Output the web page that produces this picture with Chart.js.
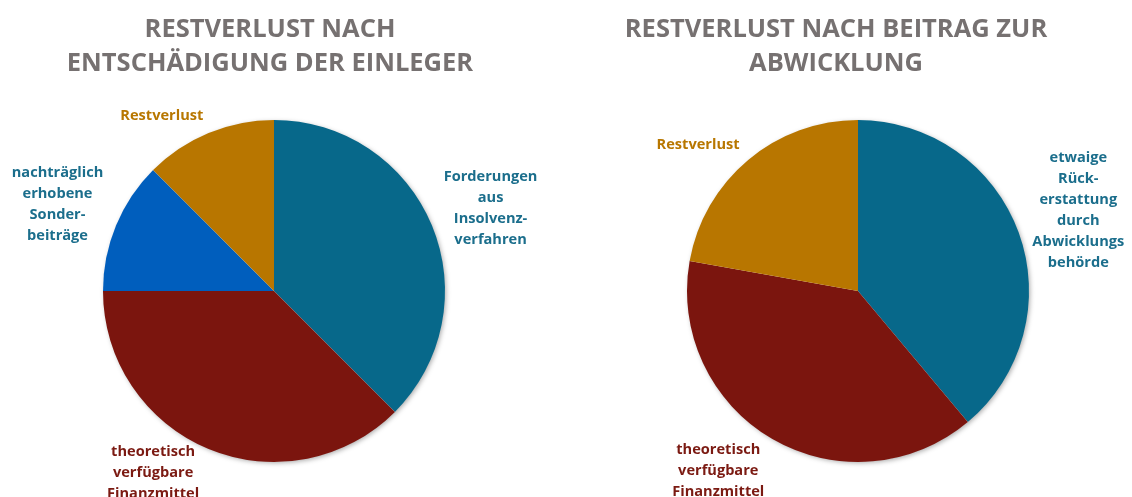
<!DOCTYPE html>
<html><head><meta charset="utf-8">
<script src="https://cdn.jsdelivr.net/npm/chart.js@4/dist/chart.umd.min.js"></script>
<style>
html,body{margin:0;padding:0;background:#fff;}
#wrap{position:relative;width:1132px;height:497px;overflow:hidden;}
.box{position:absolute;top:0;width:566px;height:497px;}
</style></head><body>
<div id="wrap">
  <div class="box" style="left:0"><canvas id="c1"></canvas></div>
  <div class="box" style="left:566px"><canvas id="c2"></canvas></div>
</div>
<script>
// ---- data ----
const leftTitle = ['RESTVERLUST NACH', 'ENTSCHÄDIGUNG DER EINLEGER'];
const leftCategories = [
  ['Forderungen', 'aus', 'Insolvenz-', 'verfahren'],
  ['theoretisch', 'verfügbare', 'Finanzmittel'],
  ['nachträglich', 'erhobene', 'Sonder-', 'beiträge'],
  ['Restverlust']
];
const leftValues = [37.5, 37.5, 12.5, 12.5];

const rightTitle = ['RESTVERLUST NACH BEITRAG ZUR', 'ABWICKLUNG'];
const rightCategories = [
  ['etwaige', 'Rück-', 'erstattung', 'durch', 'Abwicklungs', 'behörde'],
  ['theoretisch', 'verfügbare', 'Finanzmittel'],
  ['Restverlust']
];
const rightValues = [38.9, 38.9, 22.2];

// ---- styles ----
const TEAL = '#07688a', RED = '#7b150e', BLUE = '#005ebd', GOLD = '#b87600';
const TEAL_TXT = '#1b6e8c', RED_TXT = '#7b1a12', GOLD_TXT = '#b87700';
const leftColors = [TEAL, RED, BLUE, GOLD];
const leftTextColors = [TEAL_TXT, RED_TXT, TEAL_TXT, GOLD_TXT];
const rightColors = [TEAL, RED, GOLD];
const rightTextColors = [TEAL_TXT, RED_TXT, GOLD_TXT];
const FONT = '"Open Sans", "DejaVu Sans", sans-serif';

function titlePlugin(lines, cfg) {
  return {
    id: 'multiTitle',
    afterDraw(chart) {
      const ctx = chart.ctx;
      ctx.save();
      ctx.font = `bold ${cfg.size}px ${FONT}`;
      ctx.fillStyle = '#767171';
      ctx.textAlign = 'center';
      ctx.textBaseline = 'middle';
      lines.forEach((l, i) => ctx.fillText(l, chart.width / 2 + cfg.shift, cfg.top + i * cfg.lineHeight));
      ctx.restore();
    }
  };
}

const shadowPlugin = {
  id: 'pieShadow',
  beforeDatasetsDraw(chart) {
    const arc = chart.getDatasetMeta(0).data[0];
    if (!arc) return;
    const p = arc.getProps(['x', 'y', 'outerRadius'], true);
    const ctx = chart.ctx;
    ctx.save();
    ctx.shadowColor = 'rgba(0,0,0,0.35)';
    ctx.shadowBlur = 5;
    ctx.shadowOffsetX = 1.5;
    ctx.shadowOffsetY = 1.5;
    ctx.fillStyle = '#ffffff';
    ctx.beginPath();
    ctx.arc(p.x, p.y, p.outerRadius - 0.5, 0, Math.PI * 2);
    ctx.fill();
    ctx.restore();
  }
};

function labelPlugin(colors, cfg) {
  return {
    id: 'outLabels',
    afterDatasetsDraw(chart) {
      const meta = chart.getDatasetMeta(0);
      const ctx = chart.ctx;
      ctx.save();
      ctx.font = `bold ${cfg.size}px ${FONT}`;
      ctx.textAlign = 'center';
      ctx.textBaseline = 'middle';
      meta.data.forEach((arc, i) => {
        const a = arc.getProps(['x', 'y', 'startAngle', 'endAngle', 'outerRadius'], true);
        const mid = (a.startAngle + a.endAngle) / 2;
        const dx = Math.cos(mid), dy = Math.sin(mid);
        const lines = chart.data.labels[i];
        const w = Math.max(...lines.map(l => ctx.measureText(l).width));
        const h = lines.length * cfg.lineHeight;
        const px = a.x + dx * (a.outerRadius + cfg.gap);
        const py = a.y + dy * (a.outerRadius + cfg.gap);
        const cx = px + dx * w / 2 + cfg.nudge[i][0];
        const cy = py + dy * h / 2 + cfg.nudge[i][1];
        ctx.fillStyle = colors[i];
        lines.forEach((l, j) => ctx.fillText(l, cx, cy - h / 2 + cfg.lineHeight * (j + 0.5)));
      });
      ctx.restore();
    }
  };
}

function makePie(id, labels, values, colors, textColors, titleLines, padding, nudge) {
  new Chart(document.getElementById(id), {
    type: 'pie',
    data: {
      labels: labels,
      datasets: [{ data: values, backgroundColor: colors, borderWidth: 0 }]
    },
    options: {
      responsive: true,
      maintainAspectRatio: false,
      animation: false,
      layout: { padding: padding },
      plugins: { legend: { display: false }, tooltip: { enabled: false }, title: { display: false } }
    },
    plugins: [
      shadowPlugin,
      titlePlugin(titleLines, { size: 25.5, top: 30, lineHeight: 34, shift: -13 }),
      labelPlugin(textColors, { size: 14.6, lineHeight: 21.1, gap: 10, nudge: nudge })
    ]
  });
}

makePie('c1', leftCategories, leftValues, leftColors, leftTextColors, leftTitle,
  { left: 100, right: 118, top: 120, bottom: 35 },
  [[6, 3], [-34, -15], [-7, -1], [-27, 2]]);
makePie('c2', rightCategories, rightValues, rightColors, rightTextColors, rightTitle,
  { left: 118, right: 100, top: 120, bottom: 35 },
  [[7, 3], [-26, -4], [-17, 1]]);
</script>
</body></html>
